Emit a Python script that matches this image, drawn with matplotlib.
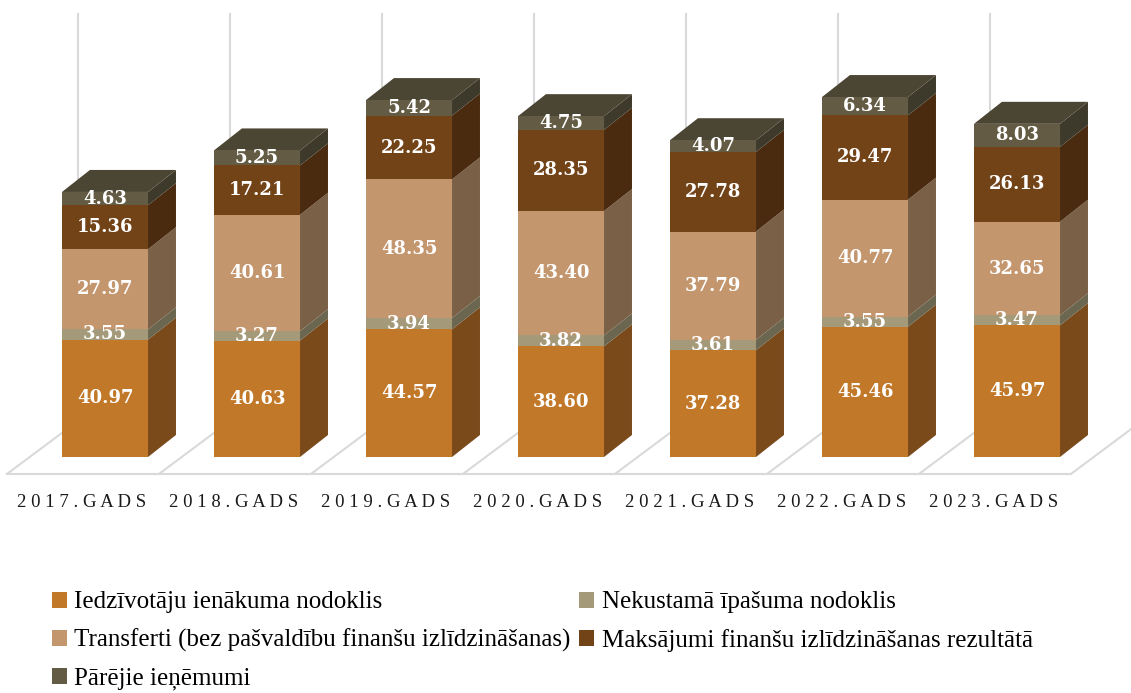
import matplotlib
matplotlib.use("Agg")
import matplotlib.pyplot as plt
from matplotlib.patches import Polygon, Patch
import numpy as np

years = ["2017.GADS", "2018.GADS", "2019.GADS", "2020.GADS", "2021.GADS", "2022.GADS", "2023.GADS"]
series_names = [
    "Iedzīvotāju ienākuma nodoklis",
    "Nekustamā īpašuma nodoklis",
    "Transferti (bez pašvaldību finanšu izlīdzināšanas)",
    "Maksājumi finanšu izlīdzināšanas rezultātā",
    "Pārējie ieņēmumi",
]
iin = [40.97, 40.63, 44.57, 38.60, 37.28, 45.46, 45.97]
nin = [3.55, 3.27, 3.94, 3.82, 3.61, 3.55, 3.47]
transferti = [27.97, 40.61, 48.35, 43.40, 37.79, 40.77, 32.65]
maksajumi = [15.36, 17.21, 22.25, 28.35, 27.78, 29.47, 26.13]
parejie = [4.63, 5.25, 5.42, 4.75, 4.07, 6.34, 8.03]
series = [iin, nin, transferti, maksajumi, parejie]

front_cols = ["#C27829", "#A49A79", "#C3966E", "#734318", "#635B43"]
side_cols = ["#7A4A1B", "#6A6650", "#7A6046", "#4A2B10", "#3E3A2B"]
top_col = "#4B4534"

fig = plt.figure(figsize=(11.31, 6.93), dpi=100)
ax = fig.add_axes([0, 0, 1, 1])
ax.set_xlim(-0.6908, 6.75)
ax.set_ylim(-82.35, 159.46)
ax.axis("off")

n = len(years)
x = np.arange(n)
w = 0.566
dx = 0.184
dy = 7.68

# floor
fy0, fy1 = -5.93, 12.56
fx0, fx1 = -0.645, -0.178
grid_c = "#D9D9D9"
ax.plot([fx0, fx0 + n], [fy0, fy0], color=grid_c, lw=1.5, zorder=1)
for k in range(n + 1):
    ax.plot([fx0 + k, fx1 + k], [fy0, fy1], color=grid_c, lw=1.5, zorder=1)
for k in range(n):
    ax.plot([fx1 + k, fx1 + k], [fy1, 154.6], color=grid_c, lw=1.5, zorder=1)

bottom = np.zeros(n)
for s, vals in enumerate(series):
    vals = np.array(vals)
    ax.bar(x, vals, width=w, bottom=bottom, color=front_cols[s], lw=0, zorder=3)
    for i in range(n):
        y0 = bottom[i]
        y1 = bottom[i] + vals[i]
        xr = x[i] + w / 2
        ax.add_patch(Polygon([(xr, y0), (xr + dx, y0 + dy), (xr + dx, y1 + dy), (xr, y1)],
                             closed=True, facecolor=side_cols[s], lw=0, zorder=2.5))
        ax.text(x[i], (y0 + y1) / 2, f"{vals[i]:.2f}", ha="center", va="center",
                color="white", fontsize=13, fontweight="bold", family="DejaVu Serif", zorder=5)
    bottom = bottom + vals

for i in range(n):
    xl = x[i] - w / 2
    xr = x[i] + w / 2
    t = bottom[i]
    ax.add_patch(Polygon([(xl, t), (xr, t), (xr + dx, t + dy), (xl + dx, t + dy)],
                         closed=True, facecolor=top_col, lw=0, zorder=2.6))

for i, lab in enumerate(years):
    ax.text(x[i] - 0.151, -16.05, " ".join(lab), ha="center", va="center",
            fontsize=13.5, family="Liberation Serif", color="#1a1a1a")

handles = [Patch(facecolor=front_cols[s], edgecolor="none") for s in range(5)]
order = [0, 2, 4, 1, 3]
fig.legend([handles[o] for o in order], [series_names[o] for o in order],
           loc="upper left", bbox_to_anchor=(0.037, 0.161), ncol=2, frameon=False,
           prop={"family": "Liberation Serif", "size": 18},
           handlelength=0.6, handleheight=0.6, handletextpad=0.3, columnspacing=0.35,
           labelspacing=0.62, borderaxespad=0)

fig.savefig("out.png", dpi=100)
